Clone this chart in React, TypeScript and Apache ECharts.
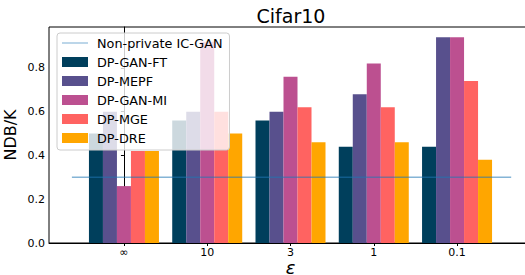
import React, { useEffect, useRef } from "react";
import * as echarts from "echarts";

const categories = ["∞", "10", "3", "1", "0.1"];
const seriesNames = ["DP-GAN-FT", "DP-MEPF", "DP-GAN-MI", "DP-MGE", "DP-DRE"];
const colors = ["#003f5c", "#58508d", "#bc5090", "#ff6361", "#ffa600"];
const dpGanFt = [0.5, 0.56, 0.56, 0.44, 0.44];
const dpMepf = [0.6, 0.6, 0.6, 0.68, 0.94];
const dpGanMi = [0.26, 0.92, 0.76, 0.82, 0.94];
const dpMge = [0.42, 0.6, 0.62, 0.62, 0.74];
const dpDre = [0.42, 0.5, 0.46, 0.46, 0.38];
const baselineName = "Non-private IC-GAN";
const baselineValue = 0.3;
const baselineX = [-0.625, 4.65];
const yTicks = [0, 0.2, 0.4, 0.6, 0.8];

const FONT = "DejaVu Sans";

export default function App() {
  const ref = useRef<HTMLDivElement>(null);
  useEffect(() => {
    if (!ref.current) return;
    const chart = echarts.init(ref.current, null, { renderer: "svg" });
    const allValues = [dpGanFt, dpMepf, dpGanMi, dpMge, dpDre];
    const barSeries = seriesNames.map((name, k) => ({
      name,
      type: "bar",
      data: allValues[k].map((v, i) => [i, v]),
      barWidth: 14,
      barGap: "0%",
      itemStyle: { color: colors[k] },
      z: 2,
    }));
    chart.setOption({
      animation: false,
      textStyle: { fontFamily: FONT },
      title: {
        text: "Cifar10",
        left: 291,
        textAlign: "center",
        top: 6,
        padding: 0,
        textStyle: { fontFamily: FONT, fontSize: 19, fontWeight: "normal", color: "#000" },
      },
      legend: {
        orient: "vertical",
        left: 57,
        top: 33,
        z: 10,
        backgroundColor: "rgba(255,255,255,0.8)",
        borderColor: "#cccccc",
        borderWidth: 1,
        borderRadius: 3,
        padding: [3, 7, 5, 5],
        itemWidth: 26,
        itemHeight: 10,
        itemGap: 5,
        textStyle: { fontFamily: FONT, fontSize: 12.8, lineHeight: 14, color: "#000", padding: [0, 0, 0, 4] },
        data: [
          { name: baselineName, icon: "path://M0,4.5 L26,4.5 L26,5.5 L0,5.5 Z", itemStyle: { color: "#1f77b4", opacity: 0.6 } },
          ...seriesNames.map((n) => ({ name: n, icon: "rect" })),
        ],
      },
      grid: { left: 49, top: 27, width: 483, height: 216, outerBoundsMode: "none", containLabel: false, show: true, borderColor: "#000", borderWidth: 1, backgroundColor: "transparent" },
      xAxis: {
        type: "value",
        min: -0.9,
        max: 4.9,
        name: "ε",
        nameLocation: "middle",
        nameMoveOverlap: false,
        nameGap: 15.5,
        nameTextStyle: { fontFamily: FONT, fontSize: 18, fontStyle: "italic", color: "#000" },
        axisLine: { show: true, lineStyle: { color: "#000" } },
        splitLine: { show: false },
        axisTick: { show: true, length: 3, customValues: [0, 1, 2, 3, 4], lineStyle: { color: "#000" } },
        axisLabel: {
          customValues: [0, 1, 2, 3, 4],
          formatter: (v: number) => categories[Math.round(v)] ?? "",
          fontFamily: FONT,
          fontSize: 11,
          color: "#000",
          margin: 4,
        },
      },
      yAxis: {
        type: "value",
        min: 0,
        max: 0.987,
        name: "NDB/K",
        nameLocation: "middle",
        nameMoveOverlap: false,
        nameGap: 30.5,
        nameTextStyle: { fontFamily: FONT, fontSize: 16, color: "#000" },
        axisLine: { show: true, lineStyle: { color: "#000" } },
        splitLine: { show: false },
        axisTick: { show: true, length: 3, customValues: yTicks, lineStyle: { color: "#000" } },
        axisLabel: {
          customValues: yTicks,
          formatter: (v: number) => v.toFixed(1),
          fontFamily: FONT,
          fontSize: 11,
          color: "#000",
          margin: 4,
        },
      },
      series: [
        {
          name: baselineName,
          type: "line",
          data: baselineX.map((x) => [x, baselineValue]),
          showSymbol: false,
          symbol: "none",
          lineStyle: { color: "#1f77b4", width: 1.5, opacity: 0.55 },
          itemStyle: { color: "#1f77b4" },
          z: 5,
        },
        ...barSeries,
      ],
    });
    return () => chart.dispose();
  }, []);
  return <div ref={ref} style={{ width: 525, height: 275, position: "absolute", left: 0, top: 0 }} />;
}
